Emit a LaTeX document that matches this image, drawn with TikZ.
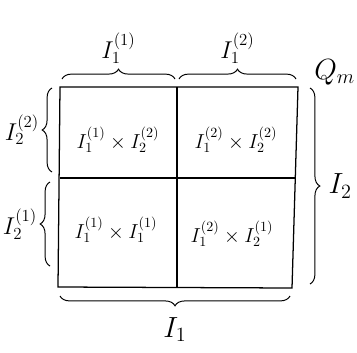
\documentclass[tikz,border=0pt]{standalone}
\usetikzlibrary{positioning,calc,decorations.pathreplacing}
\tikzset{
  grid/.style={draw=black,line width=0.9pt},
  midline/.style={draw=black,line width=1.8pt},
  brace/.style={decorate,decoration={brace,amplitude=7pt},draw=black,line width=0.7pt},
  lbl/.style={font=\LARGE,inner sep=1pt},
  sidelbl/.style={font=\LARGE,inner sep=0pt},
  biglbl/.style={font=\huge,inner sep=1pt},
  celllbl/.style={font=\Large,inner sep=1pt}
}
\begin{document}
\begin{tikzpicture}
  \clip (0,0) rectangle (8.925,-8.8);
  \useasboundingbox (0,0) rectangle (8.925,-8.8);
  % corners of the box
  \coordinate (nw) at (1.5,-2.175);
  \coordinate (n) at (4.425,-2.175);
  \coordinate (ne) at (7.45,-2.175);
  \coordinate (w) at (1.5,-4.45);
  \coordinate (e) at (7.4,-4.45);
  \coordinate (sw) at (1.45,-7.175);
  \coordinate (s) at (4.425,-7.2);
  \coordinate (se) at (7.3,-7.2);

  \draw[grid] (nw) -- (ne) -- (se) -- (sw) -- cycle;
  \draw[grid] (n) -- (s);
  \draw[midline] (w) -- (e);

  \node[celllbl] (c12) at (2.95,-3.5) {$I_1^{(1)}\times I_2^{(2)}$};
  \node[celllbl] (c22) at (5.9,-3.5) {$I_1^{(2)}\times I_2^{(2)}$};
  \node[celllbl] (c11) at (2.9,-5.75) {$I_1^{(1)}\times I_1^{(1)}$};
  \node[celllbl] (c21) at (5.8,-5.85) {$I_1^{(2)}\times I_2^{(1)}$};

  % braces
  \draw[brace] ($(nw)+(0.05,0.2)$) -- ($(n)+(-0.05,0.2)$) coordinate[midway,yshift=10pt] (tA);
  \draw[brace] ($(n)+(0.05,0.2)$) -- ($(ne)+(-0.05,0.2)$) coordinate[midway,yshift=10pt] (tB);
  \draw[brace] (1.3,-4.3) -- (1.3,-2.2) coordinate[midway,xshift=-8pt] (lB);
  \draw[brace] (1.25,-6.65) -- (1.25,-4.55) coordinate[midway,xshift=-8pt] (lA);
  \draw[brace] (7.75,-2.2) -- (7.75,-7.1) coordinate[midway,xshift=10pt] (rI);
  \draw[brace] (7.25,-7.4) -- (1.5,-7.4) coordinate[midway,yshift=-10pt] (bI);

  \node[lbl,above=0pt of tA] (i11) {$I_1^{(1)}$};
  \node[lbl,above=0pt of tB] (i12) {$I_1^{(2)}$};
  \node[sidelbl,left=1pt of lB] (i22) {$I_2^{(2)}$};
  \node[sidelbl,left=1pt of lA] (i21) {$I_2^{(1)}$};
  \node[biglbl,right=2pt of rI] (i2) {$I_2$};
  \node[biglbl,below=4pt of bI] (i1) {$I_1$};
  \node[font=\huge,anchor=east,inner sep=0pt] (qm) at (8.88,-1.8) {$Q_m$};
\end{tikzpicture}
\end{document}
